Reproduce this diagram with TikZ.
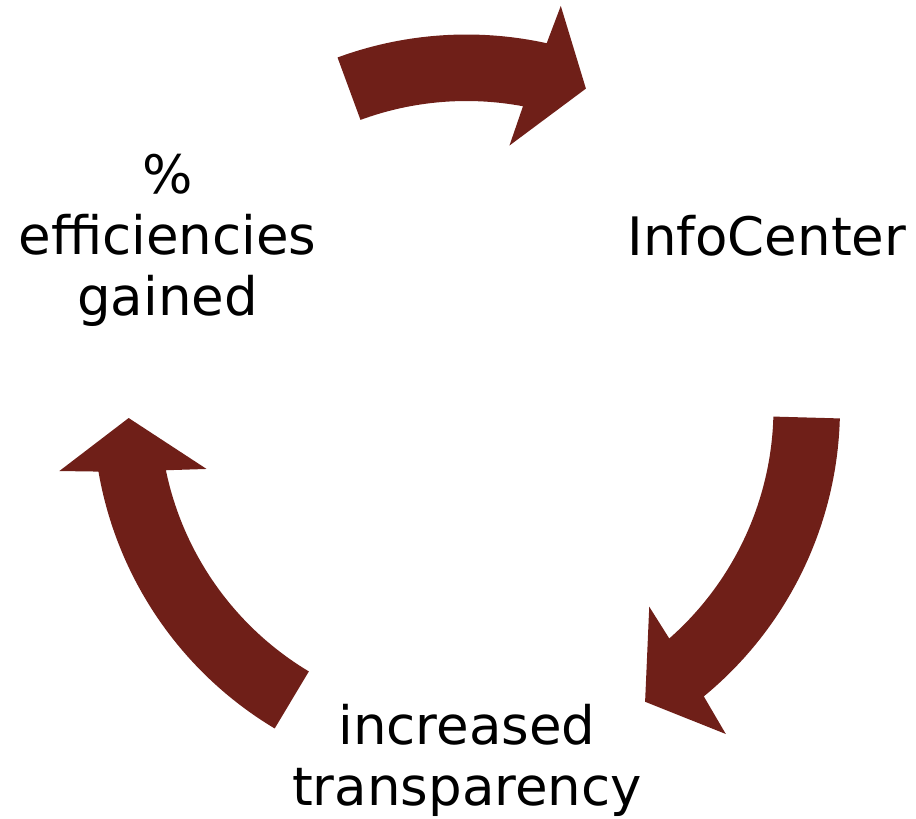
\documentclass[tikz,border=0pt]{standalone}
\usepackage{fontspec}
\setmainfont{DejaVu Sans}
\definecolor{arrowred}{RGB}{111,31,24}
\begin{document}
\begin{tikzpicture}[x=1pt,y=-1pt,
  cyclearrow/.style={fill=arrowred,draw=none},
  label/.style={font=\fontsize{53}{61}\selectfont,align=center,inner sep=0pt,anchor=base,text=black}]
\useasboundingbox (0,0) rectangle (916,819);
\coordinate (c) at (466.5,408);
\newcommand{\cyclearrowpath}[6]{%
  \fill[cyclearrow,shift={(c)}] (#1:373.5) arc[start angle=#1,end angle=#2,radius=373.5]
    -- (#4) -- (#6) -- (#5) -- (#3:307) arc[start angle=#3,end angle=#1,radius=307] -- cycle;}
% top arrow
\cyclearrowpath{-110.2}{-77.6}{-79.4}{-76.8:413}{-80.7:266}{-69.5:341}
% right arrow
\cyclearrowpath{1.6}{50.55}{48.66}{51.5:416.6}{47.4:270}{58.7:343.8}
% left arrow
\cyclearrowpath{120.9}{170.2}{168.3}{171.2:412}{166.8:267}{178.3:338}
\node[label] (info) at (767,255) {InfoCenter};
\node[label] (trans) at (467,805) {increased\\transparency};
\node[label] (eff) at (167.5,315) {\%\\efficiencies\\gained};
\end{tikzpicture}
\end{document}
